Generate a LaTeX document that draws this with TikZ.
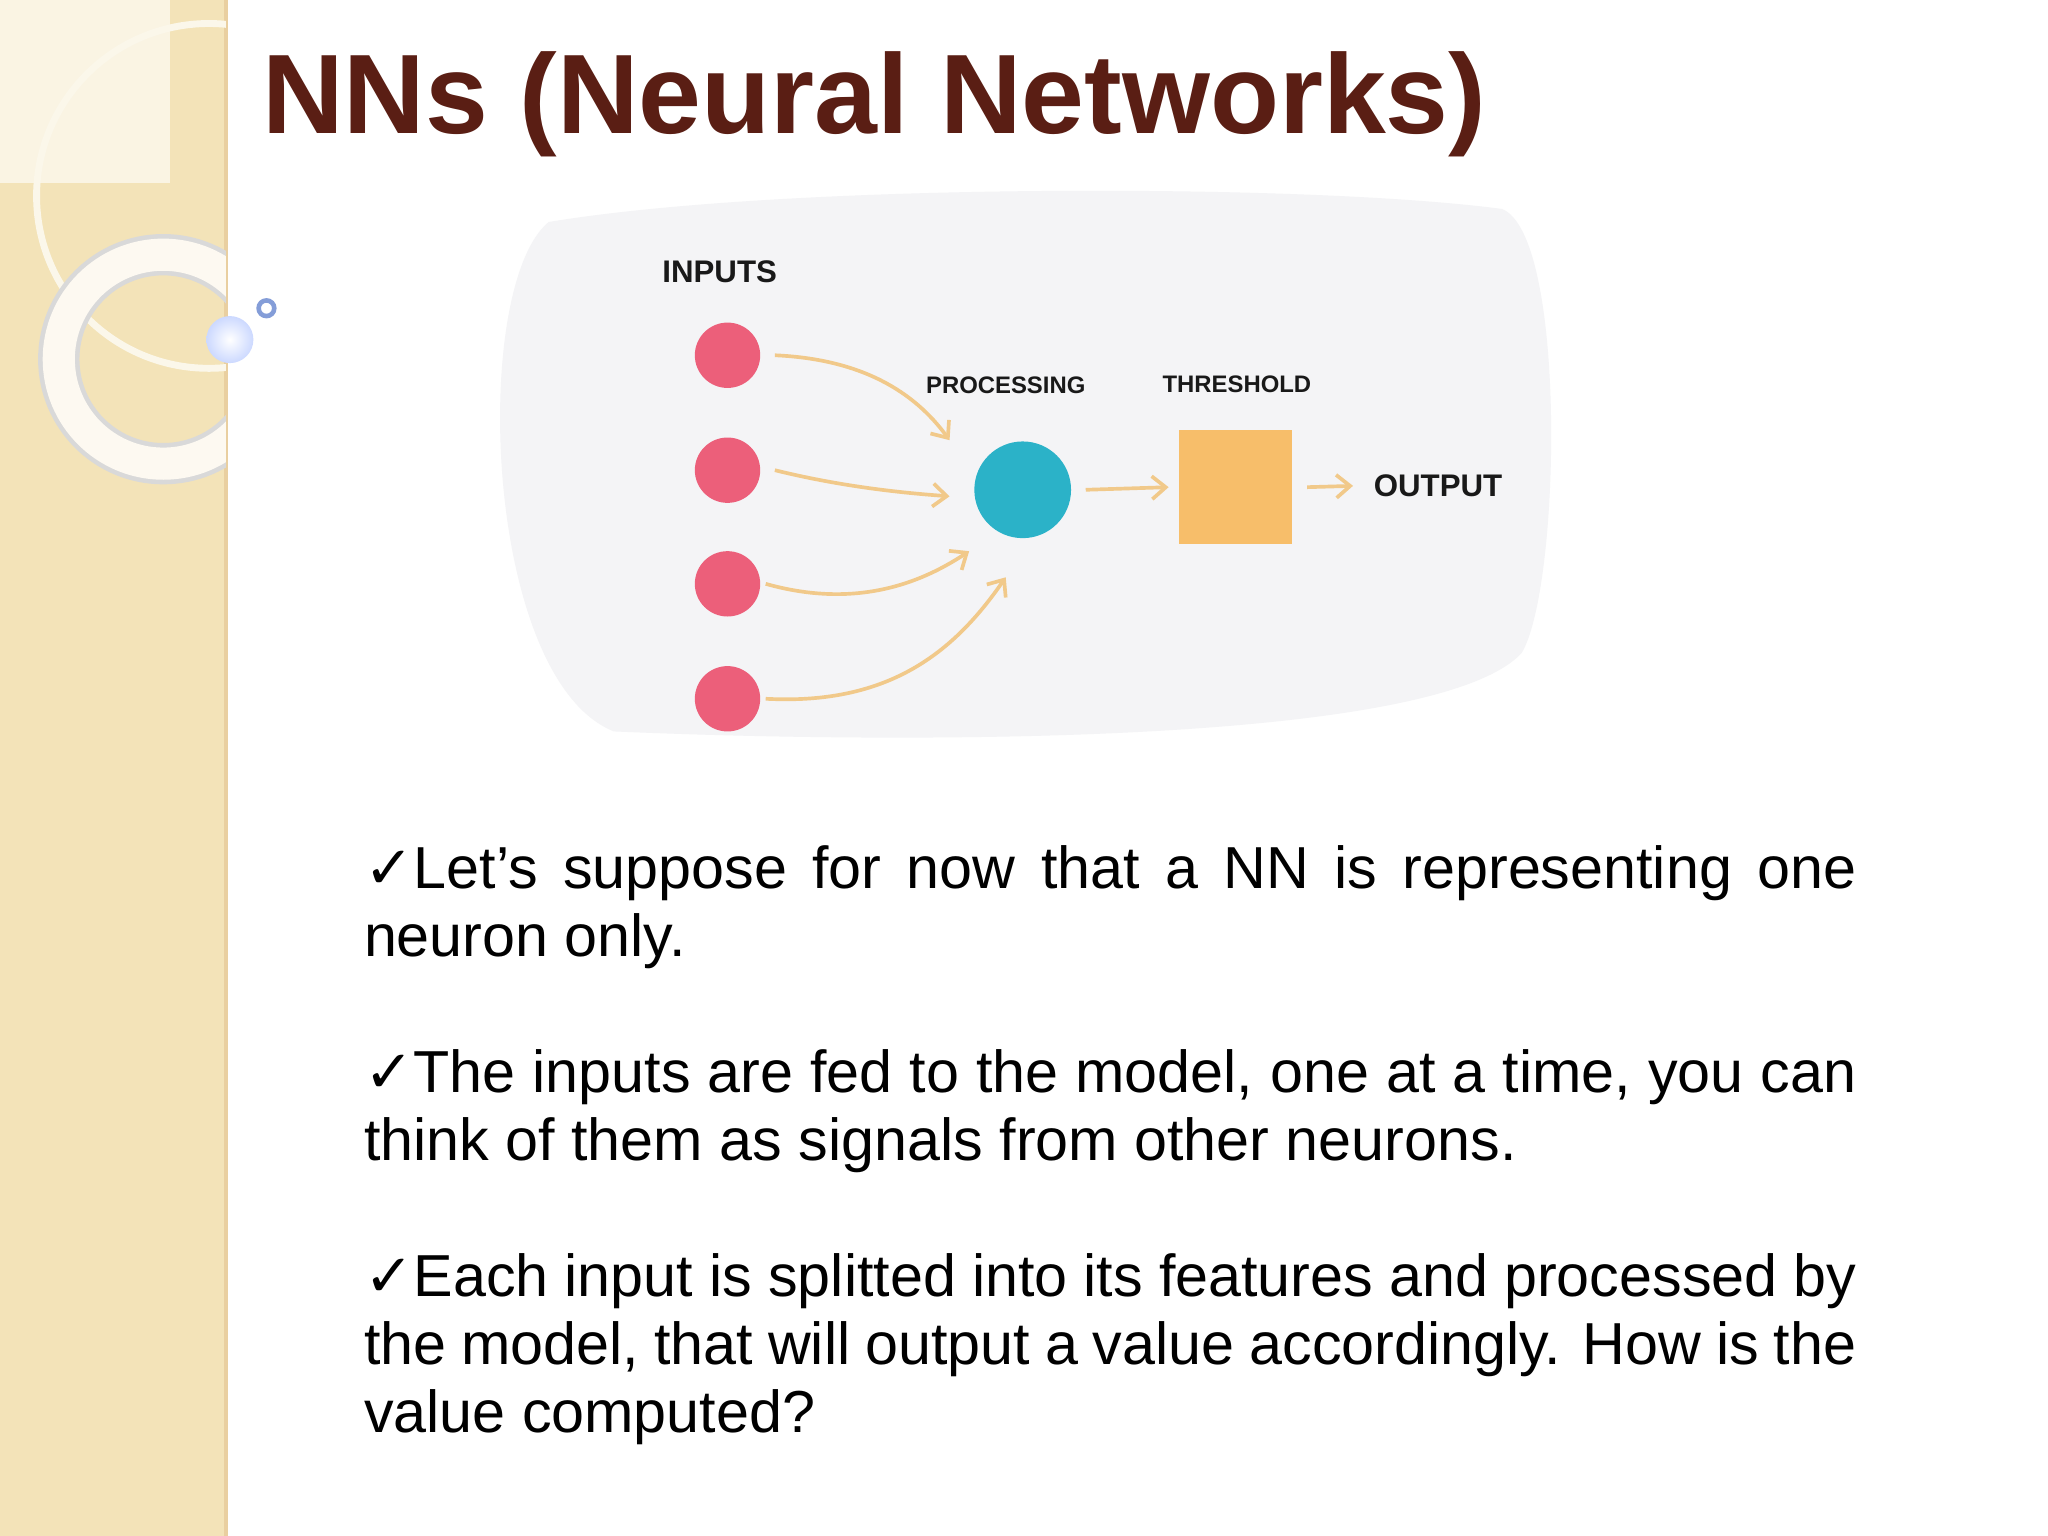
\documentclass[tikz,border=0pt]{standalone}
\usepackage{fontspec}
\setmainfont{Liberation Sans}
\newfontfamily\djv{DejaVu Sans}
\usetikzlibrary{arrows.meta}
\definecolor{band}{HTML}{F3E3B8}
\definecolor{ttl}{HTML}{5A1E14}
\definecolor{blob}{HTML}{F4F4F6}
\definecolor{pnk}{HTML}{EC5F7A}
\definecolor{teal}{HTML}{2BB2C8}
\definecolor{org}{HTML}{F7BE6A}
\definecolor{arr}{HTML}{F1C98A}
\begin{document}
\begin{tikzpicture}[x=0.01cm,y=-0.01cm,
  inp/.style={circle,fill=pnk,minimum size=0.5cm,inner sep=0},
  lab/.style={font=\bfseries\fontsize{5.2}{6}\selectfont,text=black!90},
  con/.style={draw=arr,line width=0.8pt,-{Straight Barb[length=3pt,width=5pt]}}]
\useasboundingbox (0,0) rectangle (1568,1176);
\fill[white] (0,0) rectangle (1568,1176);
\fill[band] (0,0) rectangle (173,1176);
\draw[band!80!brown,line width=1pt] (173,0)--(173,1176);
\fill[white!60!band] (0,0) rectangle (130,140);
\begin{scope}
\clip (0,0) rectangle (173,1176);
\draw[white!70!band,line width=1.5pt] (160,150) circle (132);
\draw[black!15,line width=9pt] (125,275) circle (80);
\draw[white!80!band,line width=7pt] (125,275) circle (80);
\end{scope}
\shade[inner color=white,outer color=cyan!25!blue!20] (176,260) circle (18);
\draw[cyan!40!blue!50,line width=1pt] (204,236) circle (6);
\node[anchor=base west,inner sep=0,text=ttl,font=\bfseries\fontsize{24.6}{28}\selectfont] (title) at (200,102) {NNs (Neural Networks)};
\fill[blob] (420,170) .. controls (600,140) and (1000,140) .. (1150,160) .. controls (1200,180) and (1195,450) .. (1165,500) .. controls (1100,570) and (700,570) .. (470,560) .. controls (370,520) and (360,220) .. (420,170) -- cycle;
\node[lab,font=\bfseries\fontsize{6.8}{8}\selectfont] (inlab) at (551,208) {INPUTS};
\node[inp] (i1) at (557,272) {};
\node[inp] (i2) at (557,360) {};
\node[inp] (i3) at (557,447) {};
\node[inp] (i4) at (557,535) {};
\node[circle,fill=teal,minimum size=0.74cm,inner sep=0] (p) at (783,375) {};
\node[fill=org,minimum size=0.87cm,inner sep=0] (t) at (946,373) {};
\node[lab] (pl) at (770,295) {PROCESSING};
\node[lab] (tl) at (947,294) {THRESHOLD};
\node[lab,font=\bfseries\fontsize{6.8}{8}\selectfont] (out) at (1101,372) {OUTPUT};
\draw[con] ([xshift=3pt]i1.east) .. controls (660,275) and (700,300) .. (727,337);
\draw[con] ([xshift=3pt]i2.east) .. controls (650,374) and (700,378) .. (727,380);
\draw[con] ([xshift=1pt]i3.east) .. controls (650,465) and (700,450) .. (742,422);
\draw[con] ([xshift=1pt]i4.east) .. controls (680,540) and (730,500) .. (770,442);
\draw[con] ([xshift=3pt]p.east) -- ([xshift=-2pt]t.west);
\draw[con] ([xshift=3pt]t.east) -- ([xshift=-1pt]out.west);
\node[anchor=north west,inner sep=0,text width=11.42cm,align=justify,font=\fontsize{12.9}{14.8}\selectfont] (body) at (278,647) {\hyphenpenalty=10000 \exhyphenpenalty=10000
{\djv ✓}Let’s suppose for now that a NN is representing one neuron only.\par\vspace{14.8pt}
{\djv ✓}The inputs are fed to the model, one at a time, you can think of them as signals from other neurons.\par\vspace{14.8pt}
{\djv ✓}Each input is splitted into its features and processed by the model, that will output a value accordingly. How is the value computed?};
\end{tikzpicture}
\end{document}
